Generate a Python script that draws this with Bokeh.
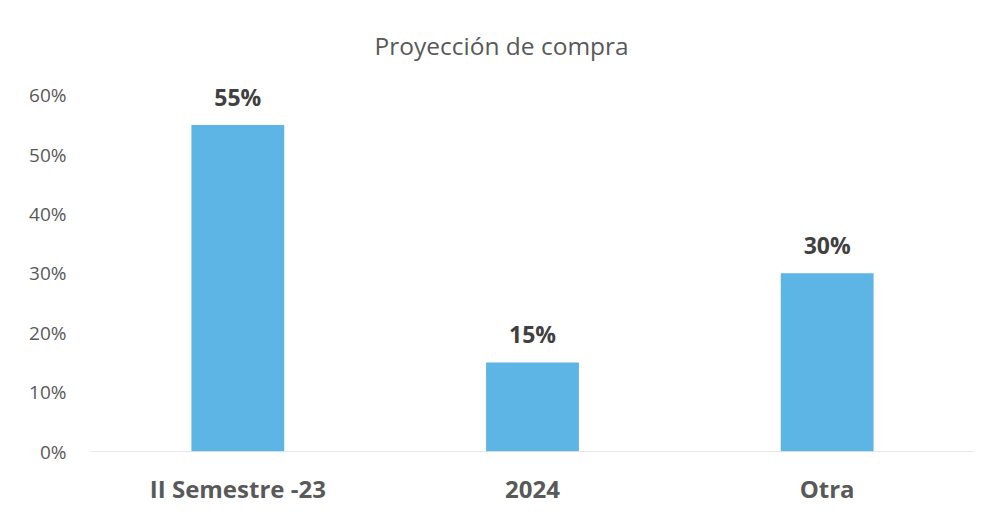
from bokeh.plotting import figure
from bokeh.models import ColumnDataSource, FixedTicker, Span, Range1d, LabelSet
from bokeh.core.properties import value
from bokeh.embed import file_html
from bokeh.resources import INLINE

categories = ["II Semestre -23", "2024", "Otra"]
values = [0.55, 0.15, 0.30]
labels = ["55%", "15%", "30%"]
y_ticks = [0.0, 0.1, 0.2, 0.3, 0.4, 0.5, 0.6]
y_tick_labels = ["0%", "10%", "20%", "30%", "40%", "50%", "60%"]

src = ColumnDataSource(dict(cat=categories, val=values, lab=labels))

p = figure(x_range=categories, y_range=Range1d(0, 0.65), width=976, height=507,
           output_backend="svg", toolbar_location=None,
           min_border_left=90, min_border_right=2, min_border_top=65, min_border_bottom=55)
p.title.text = "Proyección de compra"
p.title.align = "left"
p.title.offset = 284
p.title.text_font = "Open Sans"
p.title.text_font_size = "24.5px"
p.title.text_font_style = "normal"
p.title.text_color = "#595959"
p.title.standoff = 7

p.vbar(x="cat", top="val", width=0.315, source=src, color="#5db5e6", line_color=None)

ls = LabelSet(x="cat", y="val", text="lab", source=src, y_offset=19,
              text_align="center", text_baseline="alphabetic",
              text_font=value("Open Sans"), text_font_size="23px", text_font_style="bold",
              text_color="#404040")
p.add_layout(ls)

p.add_layout(Span(location=0, dimension="width", line_color="#d0d0d0", line_width=1))

p.yaxis.ticker = FixedTicker(ticks=y_ticks)
p.yaxis.major_label_overrides = {t: l for t, l in zip(y_ticks, y_tick_labels)}
p.yaxis.axis_line_color = None
p.yaxis.major_tick_line_color = None
p.yaxis.minor_tick_line_color = None
p.yaxis.major_label_text_font = "Open Sans"
p.yaxis.major_label_text_font_size = "19px"
p.yaxis.major_label_text_color = "#595959"
p.yaxis.major_label_standoff = 18

p.xaxis.axis_line_color = None
p.xaxis.major_tick_line_color = None
p.xaxis.major_label_text_font = "Open Sans"
p.xaxis.major_label_text_font_size = "24px"
p.xaxis.major_label_text_font_style = "bold"
p.xaxis.major_label_text_color = "#595959"
p.xaxis.major_label_standoff = 14

p.xgrid.grid_line_color = None
p.ygrid.grid_line_color = None
p.outline_line_color = None

open("out.html", "w").write(file_html(p, INLINE))
